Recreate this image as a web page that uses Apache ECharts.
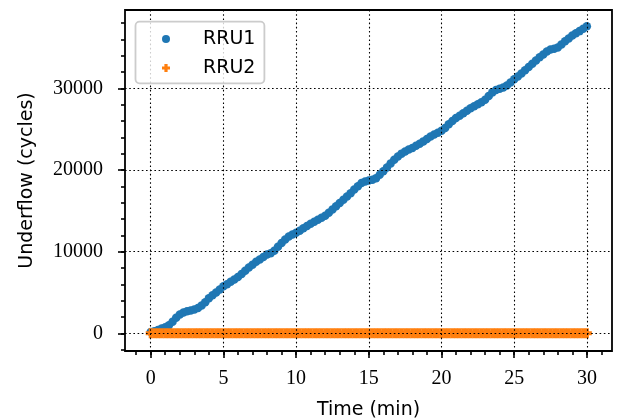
<!DOCTYPE html>
<html><head><meta charset="utf-8">
<script src="https://cdn.jsdelivr.net/npm/echarts@6/dist/echarts.min.js"></script>
<style>html,body{margin:0;padding:0;background:#fff}#c{width:619px;height:420px}</style>
</head><body><div id="c"></div>
<script>
// Time (min) sample positions
const timeMin = [
 0,0.25,0.5,0.75,1,1.25,1.5,1.75,2,2.25,2.5,2.75,3,3.25,3.5,3.75,4,4.25,4.5,4.75,
 5,5.25,5.5,5.75,6,6.25,6.5,6.75,7,7.25,7.5,7.75,8,8.25,8.5,8.75,9,9.25,9.5,9.75,
 10,10.25,10.5,10.75,11,11.25,11.5,11.75,12,12.25,12.5,12.75,13,13.25,13.5,13.75,14,14.25,14.5,14.75,
 15,15.25,15.5,15.75,16,16.25,16.5,16.75,17,17.25,17.5,17.75,18,18.25,18.5,18.75,19,19.25,19.5,19.75,
 20,20.25,20.5,20.75,21,21.25,21.5,21.75,22,22.25,22.5,22.75,23,23.25,23.5,23.75,24,24.25,24.5,24.75,
 25,25.25,25.5,25.75,26,26.25,26.5,26.75,27,27.25,27.5,27.75,28,28.25,28.5,28.75,29,29.25,29.5,29.75,
 30
];
// Underflow (cycles), RRU1
const rru1 = [
 150,250,400,600,750,1000,1400,1900,2300,2550,2700,2800,2900,3100,3400,3800,4300,4650,5000,5350,
 5750,6000,6300,6600,6900,7250,7650,8050,8400,8750,9050,9350,9650,9800,10100,10600,11050,11500,11850,12100,
 12300,12550,12850,13150,13400,13650,13900,14150,14400,14750,15150,15550,15950,16350,16750,17150,17600,18000,18400,18600,
 18700,18800,19000,19400,19850,20300,20800,21250,21650,22000,22250,22500,22700,22950,23200,23500,23800,24100,24350,24550,
 24800,25150,25600,26000,26350,26650,26950,27250,27550,27800,28050,28300,28600,29050,29500,29800,29950,30100,30350,30700,
 31100,31450,31800,32200,32600,33000,33400,33800,34150,34500,34750,34850,35000,35350,35750,36100,36450,36750,37000,37300,
 37600
];
// Underflow (cycles), RRU2
const rru2 = [
 0,0,0,0,0,0,0,0,0,0,0,0,0,0,0,0,0,0,0,0,
 0,0,0,0,0,0,0,0,0,0,0,0,0,0,0,0,0,0,0,0,
 0,0,0,0,0,0,0,0,0,0,0,0,0,0,0,0,0,0,0,0,
 0,0,0,0,0,0,0,0,0,0,0,0,0,0,0,0,0,0,0,0,
 0,0,0,0,0,0,0,0,0,0,0,0,0,0,0,0,0,0,0,0,
 0,0,0,0,0,0,0,0,0,0,0,0,0,0,0,0,0,0,0,0,
 0
];
const seriesNames = ['RRU1', 'RRU2'];
const xTickLabels = ['0','5','10','15','20','25','30'];
const yTickLabels = ['0','10000','20000','30000'];

const serif = 'Liberation Serif';
const sans = 'DejaVu Sans';
const plusPath = 'path://M0.3,0H0.7V0.3H1V0.7H0.7V1H0.3V0.7H0V0.3H0.3Z';
const dotted = {type:[1.6,2.6], color:'#000', width:1.1};
const tickStyle = {color:'#000', width:1.6};
const hidden = {show:false, min:0, max:1};
const gb = {outerBoundsMode:'none', containLabel:false};

const chart = echarts.init(document.getElementById('c'), null, {renderer:'canvas'});
chart.setOption({
  animation:false,
  backgroundColor:'#fff',
  grid:[
    Object.assign({left:125, top:10, width:487, height:341, show:true, borderColor:'#000', borderWidth:1.8, backgroundColor:'transparent'}, gb),
    Object.assign({left:150.7, top:10, width:436.2, height:341}, gb),
    Object.assign({left:125, top:88.3, width:487, height:245}, gb),
    Object.assign({left:136.16, top:10, width:465.28, height:341}, gb),
    Object.assign({left:125, top:22.95, width:487, height:326.68}, gb)
  ],
  xAxis:[
    {gridIndex:0, type:'value', min:-1.77, max:31.73, axisLine:{show:false}, axisTick:{show:false}, axisLabel:{show:false}, splitLine:{show:false},
     name:'Time (min)', nameLocation:'middle', nameGap:50, nameTextStyle:{fontFamily:sans, fontSize:19, color:'#000'}},
    {gridIndex:1, type:'value', min:0, max:30, interval:5, z:5, axisLine:{show:false},
     axisTick:{length:7, lineStyle:tickStyle},
     axisLabel:{fontFamily:serif, fontSize:20, color:'#000', margin:18, showMinLabel:true, showMaxLabel:true,
       formatter:(v)=>xTickLabels[Math.round(v/5)] ?? ''},
     splitLine:{show:true, lineStyle:dotted}},
    Object.assign({gridIndex:2, type:'value'}, hidden),
    {gridIndex:3, type:'value', min:-1, max:31, interval:1, z:5, axisLine:{show:false},
     axisTick:{length:4, lineStyle:tickStyle}, axisLabel:{show:false}, splitLine:{show:false}},
    Object.assign({gridIndex:4, type:'value'}, hidden)
  ],
  yAxis:[
    {gridIndex:0, type:'value', min:-2167, max:39586, axisLine:{show:false}, axisTick:{show:false}, axisLabel:{show:false}, splitLine:{show:false},
     name:'Underflow (cycles)', nameLocation:'middle', nameGap:88, nameRotate:90, nameTextStyle:{fontFamily:sans, fontSize:19, color:'#000'}},
    Object.assign({gridIndex:1, type:'value'}, hidden),
    {gridIndex:2, type:'value', min:0, max:30000, interval:10000, z:5, axisLine:{show:false},
     axisTick:{length:7, lineStyle:tickStyle},
     axisLabel:{fontFamily:serif, fontSize:20, color:'#000', margin:22, showMinLabel:true, showMaxLabel:true,
       formatter:(v)=>yTickLabels[Math.round(v/10000)] ?? ''},
     splitLine:{show:true, lineStyle:dotted}},
    Object.assign({gridIndex:3, type:'value'}, hidden),
    {gridIndex:4, type:'value', min:-2000, max:38000, interval:2000, z:5, axisLine:{show:false},
     axisTick:{length:4, lineStyle:tickStyle}, axisLabel:{show:false}, splitLine:{show:false}}
  ],
  legend:{
    orient:'vertical', left:135.5, top:21.7, padding:[7.8, 9, 5.8, 26.5], itemGap:10,
    itemWidth:8, itemHeight:19, backgroundColor:'rgba(255,255,255,0.8)', borderColor:'#cccccc',
    borderWidth:1.8, borderRadius:4, z:10, selectedMode:false,
    textStyle:{fontFamily:sans, fontSize:19, color:'#000', padding:[0,0,0,28]},
    data:[{name:seriesNames[0], icon:'circle'}, {name:seriesNames[1], icon:plusPath}]
  },
  series:[
    {type:'scatter', name:seriesNames[0], xAxisIndex:0, yAxisIndex:0, symbol:'circle', symbolSize:8.5, silent:true,
     itemStyle:{color:'#1f77b4', opacity:1}, data:timeMin.map((t,i)=>[t, rru1[i]]), z:2},
    {type:'scatter', name:seriesNames[1], xAxisIndex:0, yAxisIndex:0, symbol:plusPath, symbolSize:10, silent:true,
     itemStyle:{color:'#ff7f0e', opacity:1}, data:timeMin.map((t,i)=>[t, rru2[i]]), z:2}
  ]
});
</script>
</body></html>
